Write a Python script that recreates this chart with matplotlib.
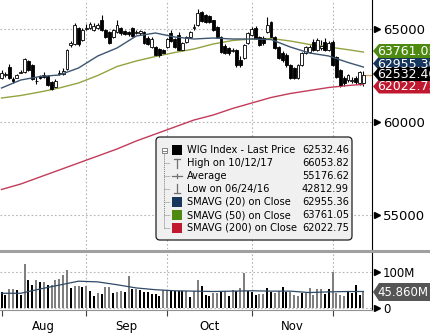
import numpy as np
import matplotlib
matplotlib.use("Agg")
import matplotlib.pyplot as plt
from matplotlib.patches import Polygon, FancyBboxPatch, Rectangle
from matplotlib.lines import Line2D

# ==================== Data ====================
# daily candles, Aug 1 .. Dec 13 2017 (trading-day index)
opens = [62350, 62500, 62970, 62330, 62380, 62660, 62690, 63280, 63060, 62180,
         62480, 62520, 62470, 62150, 61880, 62600, 62580, 62850, 64150, 64190,
         65050, 64410, 65020, 65050, 64950, 65080, 65480, 64950, 64840, 64570,
         64840, 65050, 64890, 64840, 65050, 64800, 64780, 64840, 64520, 64030,
         64030, 63920, 63870, 64030, 64780, 64460, 64700, 63870, 64300, 64570,
         65050, 65220, 65900, 65750, 65700, 65480, 65100, 64570, 64090, 63980,
         63820, 63870, 63330, 63440, 64250, 64680, 65050, 64570, 64520, 64840,
         65380, 64570, 64030, 63710, 63600, 63060, 62900, 62370, 63060, 63710,
         63760, 64300, 63870, 64000, 64300, 63870, 64300, 63500, 62800, 62370,
         62260, 62230, 62370, 62100, 62100]
highs = [62800, 62700, 63100, 62400, 62600, 62800, 63420, 63350, 63100, 62400,
         62550, 62700, 62500, 62200, 62300, 62780, 62900, 63950, 64350, 65300,
         65100, 65050, 65250, 65350, 65300, 65300, 65750, 65000, 64900, 65000,
         65480, 65100, 64950, 64900, 65100, 64950, 64950, 64900, 64600, 64550,
         64100, 64000, 63900, 64500, 64950, 64500, 64850, 64300, 64650, 64900,
         65250, 66053.82, 65980, 65800, 65750, 65500, 65150, 64600, 64200, 64050,
         64000, 63950, 63550, 64200, 64850, 65100, 65150, 64650, 64600, 65660,
         65450, 64600, 64100, 63800, 63700, 63100, 62950, 63100, 63750, 64100,
         64150, 64450, 64500, 64400, 64500, 64350, 64400, 63550, 62850, 62450,
         62600, 62400, 62450, 62750, 62750]
lows = [62310, 62420, 62300, 62120, 62350, 62620, 62650, 62760, 62250, 62050,
        62330, 62380, 61950, 61700, 61850, 62550, 62550, 62800, 64050, 64150,
        64100, 64350, 64950, 65000, 64900, 65000, 64900, 64500, 64200, 64520,
        64800, 64700, 64680, 64650, 64580, 64750, 64700, 64200, 64150, 63980,
        63550, 63500, 63650, 63980, 64300, 63980, 63800, 63800, 64250, 64500,
        64950, 65150, 65350, 65300, 65320, 64900, 64500, 63700, 63650, 63600,
        63750, 62980, 62950, 63400, 64200, 64600, 64450, 64100, 64150, 64800,
        64500, 63900, 63380, 63250, 62980, 62300, 62300, 62300, 63000, 63650,
        63700, 63800, 63800, 63850, 63800, 63800, 63000, 62350, 61900, 61950,
        62150, 62100, 62050, 62000, 61950]
closes = [62620, 62560, 62350, 62200, 62520, 62700, 63370, 62800, 62310, 62220,
          62380, 62420, 61990, 61780, 62200, 62650, 62720, 63870, 64230, 65210,
          64190, 64950, 65080, 65270, 65150, 65200, 64950, 64570, 64250, 64950,
          65200, 64780, 64730, 64730, 64620, 64840, 64890, 64250, 64190, 64460,
          63600, 63600, 63710, 64460, 64350, 64030, 63870, 64250, 64570, 64840,
          65100, 65860, 65430, 65380, 65380, 64950, 64570, 63760, 63710, 63710,
          63870, 63060, 63060, 64140, 64780, 65000, 64520, 64140, 64250, 65220,
          64570, 63980, 63440, 63330, 63060, 62370, 62370, 63060, 63710, 64030,
          64030, 63870, 64410, 64100, 63870, 64250, 63060, 62420, 61990, 62100,
          62530, 62260, 62150, 62680, 62532.46]

# volume in millions, g = grey bar, b = black bar
volumes = [43.7, 36.1, 51.2, 51.2, 48.4, 34.3, 121.6, 76.5, 62.4, 76.5,
           71.8, 71.8, 62.4, 62.4, 76.5, 81.2, 90.6, 104.7, 54.9, 60.6,
           60.6, 57.7, 60.6, 45.5, 32.4, 39.9, 37.1, 57.7, 57.7, 41.8,
           43.7, 45.5, 43.7, 88.7, 51.2, 53.0, 48.4, 43.7, 43.7, 39.0,
           39.0, 32.4, 48.4, 48.4, 45.5, 45.5, 45.5, 45.5, 45.5, 29.6,
           45.5, 76.5, 60.6, 34.3, 32.4, 41.8, 41.8, 43.7, 45.5, 32.4,
           48.4, 45.5, 54.9, 98.0, 45.5, 43.7, 36.1, 37.1, 39.0, 54.9,
           43.7, 41.8, 45.5, 57.7, 43.7, 43.7, 34.3, 31.5, 41.8, 41.8,
           54.9, 34.3, 53.0, 51.2, 39.0, 53.0, 100.0, 41.8, 34.3, 32.4,
           43.7, 41.8, 64.3, 34.3, 45.86]
vol_color = ("bbggbbgbbgbgbggggg" "bggbgbbgbggbggbgbgbbbbbbggbbbb"
             "gbggbbbggbgbgbggbbbggbbggbbgggbgggggbbgggg" "bb")

# moving averages sampled along the chart
sma_idx = [0, 5, 10, 15, 20, 25, 30, 35, 40, 45, 50, 55, 60, 65, 70, 75, 80, 85, 90, 94]
sma20 = [61828, 62258, 62446, 62527, 62903, 63548, 63979, 64624, 64785, 64570,
         64462, 64516, 64462, 64462, 64435, 64032, 63710, 63548, 63199, 62955.36]
sma50 = [61290, 61425, 61613, 61828, 62097, 62500, 62984, 63280, 63522, 63737,
         63925, 64194, 64382, 64462, 64489, 64355, 64167, 64032, 63887, 63761.05]
sma200 = [56371, 56667, 57043, 57419, 57796, 58172, 58548, 58979, 59355, 59731,
          60108, 60376, 60726, 61022, 61317, 61532, 61694, 61855, 61962, 62022.75]
vol_avg = [40, 40, 52, 63, 74, 72, 64, 55, 50, 47,
           46, 45, 46, 47, 46, 46, 42, 44, 45, 45]

month_starts = [0, 22, 43, 65, 86]
month_names = ["Aug", "Sep", "Oct", "Nov"]
price_ticks = [55000, 60000, 65000]
vol_ticks = [0, 100]
vol_tick_labels = ["0", "100M"]

legend_labels = ["WIG Index - Last Price", "High on 10/12/17", "Average",
                 "Low on 06/24/16", "SMAVG (20) on Close", "SMAVG (50) on Close",
                 "SMAVG (200) on Close"]
legend_values = ["62532.46", "66053.82", "55176.62", "42812.99",
                 "62955.36", "63761.05", "62022.75"]

tag_texts = ["62955.36", "62022.75", "63761.05", "62532.46"]
tag_colors = ["#17365d", "#c0182f", "#4f8a10", "#000000"]
last_volume = "45.860M"

# ==================== Figure ====================
W, H = 431, 333
fig = plt.figure(figsize=(W / 100, H / 100), dpi=100)
fig.patch.set_facecolor("white")

def fx(px):
    return px / W

def fy(py):
    return 1 - py / H

ax = fig.add_axes([0, fy(249), fx(372), 249 / H])
axv = fig.add_axes([0, fy(310), fx(372), 58 / H])

grid_kw = dict(color="#b4b4b4", linestyle=(0, (1.5, 2)), linewidth=0.8, zorder=0)
x = np.arange(len(closes))

# ---- price panel ----
ax.vlines(x, lows, highs, color="black", linewidth=0.8, zorder=2)
o = np.array(opens)
c = np.array(closes)
bottoms = np.minimum(o, c)
heights = np.maximum(np.abs(c - o), 25)
faces = ["white" if cc >= oo else "black" for oo, cc in zip(o, c)]
ax.bar(x, heights, bottom=bottoms, width=0.75, color=faces,
       edgecolor="black", linewidth=0.6, zorder=3)

ax.plot(sma_idx, sma200, color="#c23b5a", linewidth=1.0, zorder=2)
ax.plot(sma_idx, sma50, color="#93a33f", linewidth=1.0, zorder=2)
ax.plot(sma_idx, sma20, color="#3c5570", linewidth=1.0, zorder=4)
ax.hlines(closes[-1], x[-1] + 0.3, 96.3, color="#d9a066", linewidth=0.9)

ax.set_xlim(-0.39, 96.23)
ax.set_ylim(53172, 66559)
for m in month_starts[1:]:
    ax.axvline(m, **grid_kw)
for p in price_ticks:
    ax.axhline(p, **grid_kw)

ax.yaxis.tick_right()
ax.set_yticks(price_ticks)
ax.set_yticklabels([str(p) for p in price_ticks])
ax.tick_params(axis="y", length=0, pad=8, labelsize=9.5)
ax.tick_params(axis="x", bottom=False, labelbottom=False)
for s in ["top", "left", "bottom"]:
    ax.spines[s].set_visible(False)
ax.spines["right"].set_color("black")
ax.plot([1.013] * len(price_ticks), price_ticks, ls="none", marker=">", ms=5,
        color="black", transform=ax.get_yaxis_transform(), clip_on=False)

# ---- volume panel ----
vcols = ["#7f7f7f" if f == "g" else "black" for f in vol_color]
axv.bar(x, volumes, width=0.52, color=vcols, zorder=2)
axv.plot(sma_idx, vol_avg, color="#2e4a66", linewidth=0.9, zorder=3)
axv.set_xlim(-0.39, 96.23)
axv.set_ylim(-7, 156)
for m in month_starts[1:]:
    axv.axvline(m, **grid_kw)
for v in vol_ticks:
    axv.axhline(v, **grid_kw)
axv.yaxis.tick_right()
axv.set_yticks(vol_ticks)
axv.set_yticklabels(vol_tick_labels)
axv.tick_params(axis="y", length=0, pad=8, labelsize=8.5)
axv.plot([1.013] * len(vol_ticks), vol_ticks, ls="none", marker=">", ms=5,
         color="black", transform=axv.get_yaxis_transform(), clip_on=False)
centers = [(a + b) / 2 for a, b in zip(month_starts[:-1], month_starts[1:])]
axv.set_xticks(month_starts)
axv.set_xticklabels([""] * len(month_starts))
axv.set_xticks(centers, minor=True)
axv.set_xticklabels(month_names, minor=True)
axv.tick_params(axis="x", which="major", length=4, width=0.8, color="#404040")
axv.tick_params(axis="x", which="minor", length=0, pad=7, labelsize=8.5)
for s in ["top", "left"]:
    axv.spines[s].set_visible(False)
axv.spines["bottom"].set_color("#909090")
axv.spines["right"].set_color("black")

# panel separator runs across the full width
fig.add_artist(Line2D([0, 1], [fy(251), fy(251)], color="#a0a0a0", linewidth=2.2))

# ---- overlay in pixel coordinates: tags and legend ----
ov = fig.add_axes([0, 0, 1, 1])
ov.set_xlim(0, W)
ov.set_ylim(H, 0)
ov.axis("off")

def tag(cy, half, color, text, size):
    pts = [(373, cy), (379, cy - half), (432, cy - half), (432, cy + half), (379, cy + half)]
    ov.add_patch(Polygon(pts, closed=True, fc=color, ec="none"))
    ov.text(377, cy + 0.5, text, color="white", fontsize=size, va="center", ha="left")

tag_centers = [63.5, 86.5, 51, 74]
for cy, col, t in zip(tag_centers, tag_colors, tag_texts):
    tag(cy, 7, col, t, 9)
tag(292, 9, "#555555", last_volume, 8.5)

ov.add_patch(FancyBboxPatch((156, 137), 196, 103, boxstyle="round,pad=0,rounding_size=4",
                            fc="#f0f0f0", ec="#202020", lw=0.9))
rows = [150 + 13 * k for k in range(len(legend_labels))]
tree = "#808080"
ov.add_patch(Rectangle((162, 148), 5, 5, fc="white", ec=tree, lw=0.7))
ov.plot([163, 166], [150.5, 150.5], color=tree, lw=0.7)
ov.plot([164.5, 164.5], [153, rows[-1]], color=tree, lw=0.7, ls=(0, (1, 1)))
for ry in rows[1:]:
    ov.plot([164.5, 170], [ry, ry], color=tree, lw=0.7, ls=(0, (1, 1)))
sq_colors = ["black", None, None, None, "#17365d", "#4f8a10", "#c0182f"]
for ry, col in zip(rows, sq_colors):
    if col:
        ov.add_patch(Rectangle((172, ry - 5), 10, 10, fc=col, ec="none"))
sym = "#707070"
ov.plot([177, 177], [rows[1] - 4, rows[1] + 5], color=sym, lw=0.9)
ov.plot([174, 180], [rows[1] - 4, rows[1] - 4], color=sym, lw=0.9)
ov.plot([172, 182], [rows[2], rows[2]], color=sym, lw=0.9)
ov.plot([177, 177], [rows[2] - 2, rows[2] + 2], color=sym, lw=0.9)
ov.plot([177, 177], [rows[3] - 5, rows[3] + 4], color=sym, lw=0.9)
ov.plot([174, 180], [rows[3] + 4, rows[3] + 4], color=sym, lw=0.9)
for ry, lab, val in zip(rows, legend_labels, legend_values):
    ov.text(187, ry, lab, fontsize=7.1, va="center", ha="left", color="black")
    ov.text(349, ry, val, fontsize=7.1, va="center", ha="right", color="black")

fig.savefig("out.png", dpi=100)
